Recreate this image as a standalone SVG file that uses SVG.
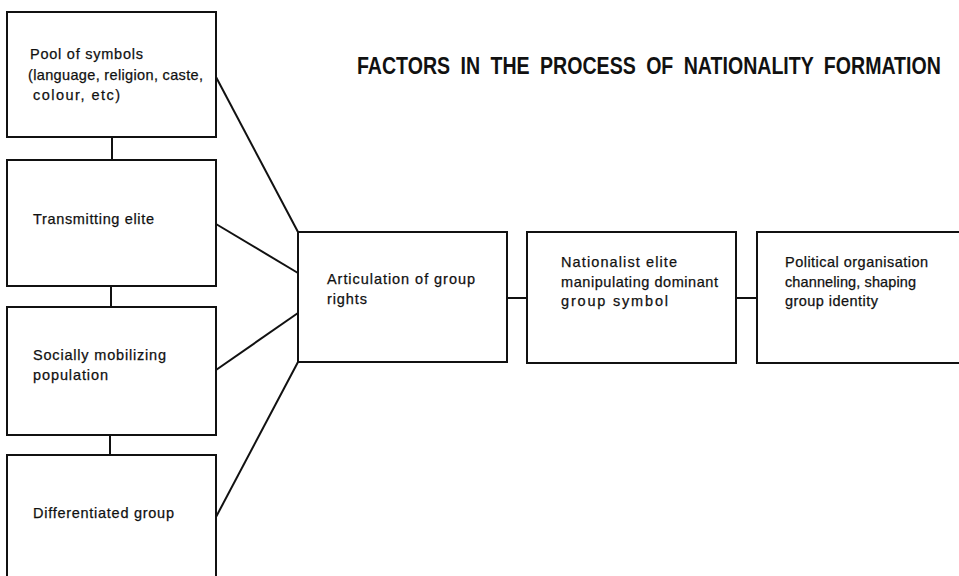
<svg xmlns="http://www.w3.org/2000/svg" width="959" height="576" viewBox="0 0 959 576">
<style>
.box{fill:#fff;stroke:#111;stroke-width:2}
.c{stroke:#111;stroke-width:2;fill:none}
.t{font-family:"Liberation Sans",Arial,sans-serif;font-size:14.5px;fill:#111;stroke:#111;stroke-width:0.25}
.title{font-family:"Liberation Sans",Arial,sans-serif;font-size:23.5px;font-weight:bold;fill:#111;word-spacing:6px}
</style>
<rect width="959" height="576" fill="#fff"/>
<text class="title" transform="translate(357,74) scale(0.833,1)" x="0" y="0">FACTORS IN THE PROCESS OF NATIONALITY FORMATION</text>
<g id="connectors">
<line class="c" x1="112" y1="137" x2="112" y2="160"/>
<line class="c" x1="111" y1="286" x2="111" y2="307"/>
<line class="c" x1="110" y1="435" x2="110" y2="455"/>
<line class="c" x1="216" y1="77" x2="298" y2="232"/>
<line class="c" x1="216" y1="224" x2="298" y2="273"/>
<line class="c" x1="216" y1="370" x2="298" y2="313"/>
<line class="c" x1="216" y1="517" x2="298" y2="362"/>
<line class="c" x1="507" y1="298" x2="527" y2="298"/>
<line class="c" x1="736" y1="298" x2="757" y2="298"/>
</g>
<g id="pool">
<rect class="box" x="7" y="12" width="209" height="125"/>
<text class="t" x="30" y="59" textLength="113">Pool of symbols</text>
<text class="t" x="28" y="80" textLength="175">(language, religion, caste,</text>
<text class="t" x="33" y="100" textLength="87">colour, etc)</text>
</g>
<g id="transmitting">
<rect class="box" x="7" y="160" width="209" height="126"/>
<text class="t" x="33" y="224" textLength="121">Transmitting elite</text>
</g>
<g id="socially">
<rect class="box" x="7" y="307" width="209" height="128"/>
<text class="t" x="33" y="360" textLength="133">Socially mobilizing</text>
<text class="t" x="33" y="380" textLength="75">population</text>
</g>
<g id="differentiated">
<rect class="box" x="7" y="455" width="209" height="140"/>
<text class="t" x="33" y="518" textLength="141">Differentiated group</text>
</g>
<g id="articulation">
<rect class="box" x="298" y="232" width="209" height="130"/>
<text class="t" x="327" y="284" textLength="148">Articulation of group</text>
<text class="t" x="327" y="304" textLength="40">rights</text>
</g>
<g id="nationalist">
<rect class="box" x="527" y="232" width="209" height="131"/>
<text class="t" x="561" y="267" textLength="116">Nationalist elite</text>
<text class="t" x="561" y="287" textLength="157">manipulating dominant</text>
<text class="t" x="561" y="306" textLength="107">group symbol</text>
</g>
<g id="political">
<rect class="box" x="757" y="232" width="220" height="131"/>
<text class="t" x="785" y="267" textLength="143">Political organisation</text>
<text class="t" x="785" y="287" textLength="131">channeling, shaping</text>
<text class="t" x="785" y="306" textLength="93">group identity</text>
</g>
</svg>
